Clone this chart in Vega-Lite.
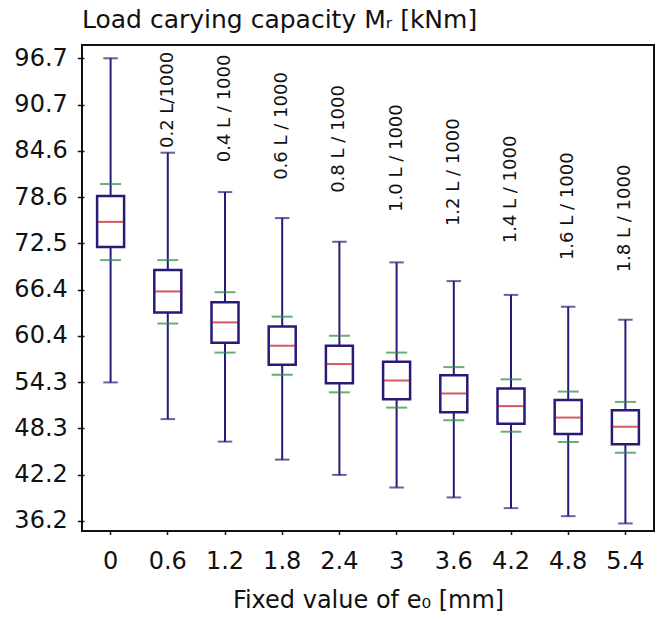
{
  "$schema": "https://vega.github.io/schema/vega-lite/v6.json",
  "width": 572,
  "height": 486,
  "autosize": {"type": "none"},
  "padding": {"left": 82, "top": 45, "right": 5, "bottom": 88},
  "title": {"text": "Load carying capacity Mᵣ [kNm]", "anchor": "start", "frame": "group", "baseline": "alphabetic", "offset": 17, "dy": 25, "font": "DejaVu Sans", "fontSize": 25, "fontWeight": "normal", "color": "#111111"},
  "config": {
    "view": {"stroke": "#111111", "strokeWidth": 2},
    "axis": {"grid": false, "domain": false, "labelFont": "DejaVu Sans", "labelFontSize": 24, "labelColor": "#111111", "tickColor": "#111111", "tickWidth": 1.5, "titleFont": "DejaVu Sans", "titleFontSize": 24, "titleFontWeight": "normal", "titleColor": "#111111"}
  },
  "data": {"values": [
    {"e0": "0", "lo": 54.3, "plo": 70.3, "q1": 72.0, "med": 75.3, "q3": 78.7, "phi": 80.25, "hi": 96.7, "ann": null, "label": ""},
    {"e0": "0.6", "lo": 49.5, "plo": 62.0, "q1": 63.45, "med": 66.2, "q3": 69.0, "phi": 70.3, "hi": 84.35, "ann": 84.96, "label": "0.2 L/1000"},
    {"e0": "1.2", "lo": 46.55, "plo": 58.2, "q1": 59.5, "med": 62.15, "q3": 64.8, "phi": 66.1, "hi": 79.2, "ann": 83.1, "label": "0.4 L / 1000"},
    {"e0": "1.8", "lo": 44.2, "plo": 55.3, "q1": 56.6, "med": 59.1, "q3": 61.6, "phi": 62.9, "hi": 75.8, "ann": 80.8, "label": "0.6 L / 1000"},
    {"e0": "2.4", "lo": 42.2, "plo": 53.0, "q1": 54.2, "med": 56.7, "q3": 59.1, "phi": 60.4, "hi": 72.7, "ann": 79.1, "label": "0.8 L / 1000"},
    {"e0": "3", "lo": 40.55, "plo": 51.0, "q1": 52.1, "med": 54.55, "q3": 57.0, "phi": 58.2, "hi": 70.0, "ann": 76.6, "label": "1.0 L / 1000"},
    {"e0": "3.6", "lo": 39.25, "plo": 49.35, "q1": 50.4, "med": 52.85, "q3": 55.25, "phi": 56.3, "hi": 67.55, "ann": 74.75, "label": "1.2 L / 1000"},
    {"e0": "4.2", "lo": 37.85, "plo": 47.85, "q1": 48.9, "med": 51.2, "q3": 53.5, "phi": 54.7, "hi": 65.75, "ann": 72.5, "label": "1.4 L / 1000"},
    {"e0": "4.8", "lo": 36.8, "plo": 46.5, "q1": 47.55, "med": 49.7, "q3": 52.0, "phi": 53.1, "hi": 64.2, "ann": 70.3, "label": "1.6 L / 1000"},
    {"e0": "5.4", "lo": 35.85, "plo": 45.1, "q1": 46.2, "med": 48.5, "q3": 50.65, "phi": 51.75, "hi": 62.5, "ann": 68.7, "label": "1.8 L / 1000"}
  ]},
  "encoding": {
    "x": {"field": "e0", "type": "ordinal", "sort": null,
      "scale": {"domain": ["0", "0.6", "1.2", "1.8", "2.4", "3", "3.6", "4.2", "4.8", "5.4"], "paddingInner": 0, "paddingOuter": 0},
      "axis": {"title": "Fixed value of e₀ [mm]", "labelAngle": 0, "tickSize": 5, "offset": -1.5, "labelPadding": 14.5, "titleBaseline": "alphabetic", "titleY": 78}}
  },
  "layer": [
    {"mark": {"type": "rule", "color": "#281a78", "strokeWidth": 2},
     "encoding": {
       "y": {"field": "lo", "type": "quantitative", "scale": {"domain": [34.86, 98.44], "nice": false, "zero": false},
         "axis": {"title": null, "values": [36.2, 42.25, 48.3, 54.35, 60.4, 66.45, 72.5, 78.55, 84.6, 90.65, 96.7], "tickSize": 6.7, "offset": -2, "labelPadding": 10,
           "labelExpr": "['36.2','42.2','48.3','54.3','60.4','66.4','72.5','78.6','84.6','90.7','96.7'][round((datum.value-36.2)/6.05)]"}},
       "y2": {"field": "hi"}}},
    {"mark": {"type": "bar", "width": 27, "fill": "#ffffff", "stroke": "#281a78", "strokeWidth": 2.5},
     "encoding": {
       "y": {"field": "q1", "type": "quantitative", "scale": {"domain": [34.86, 98.44], "nice": false, "zero": false}, "title": null},
       "y2": {"field": "q3"}}},
    {"mark": {"type": "tick", "color": "#c0141c", "size": 26, "thickness": 2},
     "encoding": {"y": {"field": "med", "type": "quantitative", "scale": {"domain": [34.86, 98.44], "nice": false, "zero": false}, "title": null}}},
    {"mark": {"type": "tick", "color": "#2a8a3c", "size": 21, "thickness": 2},
     "encoding": {"y": {"field": "plo", "type": "quantitative", "scale": {"domain": [34.86, 98.44], "nice": false, "zero": false}, "title": null}}},
    {"mark": {"type": "tick", "color": "#2a8a3c", "size": 21, "thickness": 2},
     "encoding": {"y": {"field": "phi", "type": "quantitative", "scale": {"domain": [34.86, 98.44], "nice": false, "zero": false}, "title": null}}},
    {"mark": {"type": "tick", "color": "#281a78", "size": 14.5, "thickness": 2},
     "encoding": {"y": {"field": "lo", "type": "quantitative", "scale": {"domain": [34.86, 98.44], "nice": false, "zero": false}, "title": null}}},
    {"mark": {"type": "tick", "color": "#281a78", "size": 14.5, "thickness": 2},
     "encoding": {"y": {"field": "hi", "type": "quantitative", "scale": {"domain": [34.86, 98.44], "nice": false, "zero": false}, "title": null}}},
    {"transform": [{"filter": "isValid(datum.ann)"}],
     "mark": {"type": "text", "angle": 270, "align": "left", "baseline": "middle", "font": "DejaVu Sans", "fontSize": 18, "color": "#111111"},
     "encoding": {
       "y": {"field": "ann", "type": "quantitative", "scale": {"domain": [34.86, 98.44], "nice": false, "zero": false}, "title": null},
       "text": {"field": "label"}}}
  ]
}
